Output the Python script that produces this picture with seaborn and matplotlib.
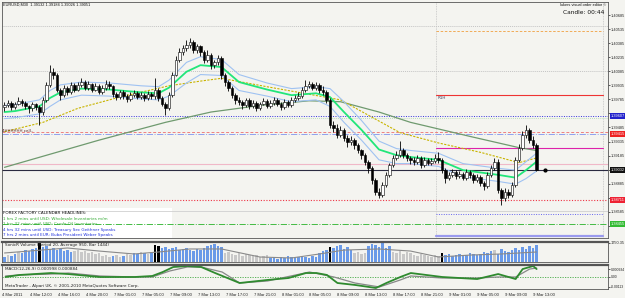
import numpy as np
import seaborn as sns
import matplotlib
matplotlib.use('Agg')
from matplotlib import pyplot as plt
from matplotlib import transforms

sns.set_style('white')
plt.rcParams['font.family'] = ['DejaVu Sans']
NARROW = ['Liberation Sans Narrow', 'DejaVu Sans Condensed', 'Liberation Sans', 'DejaVu Sans']

W, H = 625, 298
BG = '#f4f4f0'

# EURUSD M30 candles, pips above 1.3800
BASE = 1.3800
open_pips = [170, 172, 175, 170, 174, 177, 175, 171, 169, 174,
             170, 165, 178, 194, 208, 205, 189, 183, 191, 186,
             194, 189, 194, 197, 191, 195, 189, 193, 186, 191,
             195, 193, 184, 181, 186, 182, 179, 183, 185, 181,
             183, 180, 184, 182, 189, 180, 174, 169, 183, 205,
             221, 229, 233, 236, 240, 231, 235, 229, 221, 226,
             215, 218, 223, 205, 197, 191, 183, 178, 176, 172,
             178, 171, 175, 169, 174, 177, 171, 175, 178, 174,
             170, 176, 172, 178, 180, 182, 188, 193, 195, 191,
             194, 188, 186, 178, 151, 148, 140, 146, 137, 133,
             135, 130, 124, 119, 112, 105, 92, 80, 76, 87,
             98, 108, 116, 119, 124, 119, 116, 114, 112, 116,
             108, 114, 111, 113, 116, 114, 103, 95, 98, 101,
             97, 99, 95, 101, 98, 92, 96, 89, 86, 98,
             105, 112, 82, 73, 80, 76, 87, 114, 127, 140,
             146, 135, 130]
high_pips = [176, 178, 177, 176, 181, 179, 177, 173, 176, 175,
             172, 181, 197, 215, 212, 207, 191, 194, 193, 197,
             196, 197, 201, 199, 198, 196, 196, 195, 194, 199,
             198, 194, 186, 188, 188, 184, 186, 188, 187, 186,
             185, 187, 186, 201, 191, 182, 176, 186, 208, 225,
             233, 237, 242, 244, 242, 238, 237, 231, 231, 228,
             221, 226, 225, 207, 199, 193, 185, 181, 178, 180,
             180, 178, 177, 176, 180, 179, 178, 181, 180, 176,
             179, 178, 181, 183, 186, 192, 199, 198, 197, 197,
             196, 193, 189, 180, 155, 152, 150, 148, 140, 139,
             137, 132, 126, 121, 114, 107, 95, 84, 90, 101,
             111, 119, 123, 134, 127, 121, 118, 117, 119, 118,
             117, 116, 116, 120, 122, 116, 105, 101, 104, 103,
             102, 101, 104, 103, 100, 99, 98, 91, 101, 108,
             116, 115, 84, 84, 83, 90, 117, 131, 145, 151,
             148, 139, 132]
low_pips = [166, 170, 167, 168, 172, 171, 168, 164, 166, 167,
            151, 162, 176, 192, 200, 186, 178, 181, 183, 184,
            186, 187, 192, 189, 189, 186, 187, 184, 184, 189,
            190, 181, 178, 179, 179, 176, 177, 181, 179, 179,
            177, 178, 179, 179, 177, 171, 162, 167, 181, 203,
            218, 226, 230, 233, 228, 228, 225, 217, 218, 211,
            212, 215, 200, 193, 187, 180, 174, 172, 168, 170,
            168, 169, 166, 167, 172, 169, 169, 173, 171, 167,
            168, 170, 170, 176, 178, 180, 186, 191, 188, 189,
            185, 183, 175, 148, 144, 137, 138, 134, 128, 130,
            126, 121, 115, 108, 100, 88, 76, 73, 74, 85,
            96, 106, 114, 117, 116, 113, 110, 109, 110, 105,
            106, 108, 109, 111, 111, 100, 89, 93, 96, 94,
            95, 92, 93, 95, 89, 90, 86, 82, 84, 96,
            103, 79, 66, 70, 73, 74, 85, 112, 125, 137,
            132, 127, 102]
close_pips = [172, 175, 170, 174, 177, 175, 171, 169, 174, 170,
              165, 178, 194, 208, 205, 189, 183, 191, 186, 194,
              189, 194, 197, 191, 195, 189, 193, 186, 191, 195,
              193, 184, 181, 186, 182, 179, 183, 185, 181, 183,
              180, 184, 182, 189, 180, 174, 169, 183, 205, 221,
              229, 233, 236, 240, 231, 235, 229, 221, 226, 215,
              218, 223, 205, 197, 191, 183, 178, 176, 172, 178,
              171, 175, 169, 174, 177, 171, 175, 178, 174, 170,
              176, 172, 178, 180, 182, 188, 193, 195, 191, 194,
              188, 186, 178, 151, 148, 140, 146, 137, 133, 135,
              130, 124, 119, 112, 105, 92, 80, 76, 87, 98,
              108, 116, 119, 124, 119, 116, 114, 112, 116, 108,
              114, 111, 113, 116, 114, 103, 95, 98, 101, 97,
              99, 95, 101, 98, 92, 96, 89, 86, 98, 105,
              112, 82, 73, 80, 76, 87, 114, 127, 140, 146,
              135, 130, 103]

# moving averages (bar index, pips)
ema_x = [0, 3, 10, 13, 16, 22, 30, 39, 44, 47, 52, 56, 62, 67, 75, 82, 89, 93,
         97, 102, 107, 112, 116, 124, 131, 141, 146, 149, 152]
ema_mid = [165, 166, 171, 180, 186, 190, 189, 186, 185, 191, 208, 215, 213, 197,
           189, 183, 185, 181, 165, 146, 125, 119, 117, 114, 103, 98, 95, 103, 112]
ema_up = [172, 173, 178, 188, 194, 197, 196, 193, 192, 199, 218, 224, 221, 205,
          196, 190, 192, 190, 176, 156, 134, 126, 124, 121, 110, 105, 103, 112, 121]
ema_lo = [158, 159, 163, 171, 178, 183, 182, 179, 178, 182, 196, 205, 204, 188,
          182, 176, 178, 171, 154, 135, 114, 110, 110, 107, 96, 91, 88, 94, 102]
slow_x = [0, 11, 21, 33, 47, 56, 62, 75, 84, 96, 113, 124, 136, 147, 152]
slow_ma = [144, 154, 169, 181, 193, 198, 201, 192, 186, 178, 143, 132, 122, 111, 116]
long_x = [0, 27, 46, 59, 73, 87, 96, 107, 116, 133, 147, 152]
long_ma = [106, 135, 154, 165, 172, 177, 176, 165, 154, 139, 127, 124]

# horizontal levels
grid_levels = [1.40568, 1.40087]
lvl_orange = 1.40514
lvl_r1 = 1.39831
lvl_blue = 1.39607
lvl_lgreen = 1.39586
lvl_red_dash = 1.39437
lvl_blue_dash = 1.39415
lvl_magenta = 1.39266
lvl_pink = 1.39095
lvl_current = 1.39032
lvl_red_dot = 1.38711
lvl_gray = 1.38594
lvl_blue_dot = 1.38562
lvl_green = 1.38455
lvl_purple = 1.38327
session_bar = 123.3

price_ticks = [1.40685, 1.40535, 1.40385, 1.40235, 1.40085, 1.39935, 1.39785,
               1.39635, 1.39485, 1.39335, 1.39185, 1.39035, 1.38885, 1.38735,
               1.38585, 1.38435]

# volume
volume = [460, 640, 550, 740, 920, 830, 1100, 1010, 1200, 1290,
          1750, 1380, 1470, 1200, 1290, 1100, 1200, 1010, 1100, 920,
          1010, 1100, 920, 1010, 830, 920, 740, 830,
          550, 640, 460, 550, 640, 460, 550, 740, 640,
          830, 740, 920, 830, 740, 920, 1560, 1470,
          1290, 1380, 1200, 1290, 1380, 1100, 1200, 1290,
          1100, 1010, 1200, 1100, 1290, 1470, 1560, 1660, 1470, 1380,
          830, 920, 740, 640, 830, 550, 740, 640, 550, 640, 460, 550, 640,
          370, 460, 280, 460, 370, 550, 460, 370, 460, 550, 460, 370, 550, 460,
          830, 1010, 1100, 1380, 1290, 1470, 1560, 1200, 1380, 1100,
          830, 920, 740, 830, 1470, 1660, 1560, 1380, 1750, 1290, 1470,
          920, 830, 1010, 740, 920, 830, 640, 550, 740, 640, 550, 460, 640, 550,
          830, 640, 740, 550, 640, 740, 550, 640, 830, 740, 640, 740,
          920, 830, 1010, 1100, 740, 1200, 1010, 920, 1100,
          1290, 1100, 1380, 1200, 1470, 1290, 1560]
vol_kind = ('bgbbgbbbbb' + 'k' + 'bbbb' + 'bbbbb' + 'gggggggg' + 'gggbggbgg'
            + 'bbgbgb' + 'kk' + 'bbbbbbbb' + 'bbbbbbb' + 'bbb' + 'g' * 13
            + 'b' * 14 + 'bbb' + 'k' + 'bbbbbb' + 'gggg' + 'bbbbbbb' + 'gggggg'
            + 'gggggggg' + 'k' + 'b' * 11 + 'bbbgbbbbb' + 'bbbbbbb')
vavg_x = [0, 7, 18, 27, 37, 44, 53, 62, 73, 82, 90, 97, 107, 116, 124, 133, 142, 152]
vavg = [830, 1010, 1290, 1010, 740, 920, 1200, 1200, 460, 370, 740, 1100, 1200,
        1010, 460, 640, 740, 920]

# MACD
macd_x = [0, 4, 13, 18, 27, 37, 42, 45, 48, 52, 56, 60, 67, 75, 81, 86, 89, 92,
          95, 100, 106, 109, 113, 116, 125, 135, 141, 146, 148, 151, 152]
macd_main = [0, 0.00024, 0.00047, 0.00035, 0, 0, 0.00012, 0.00059, 0.00118,
             0.0013, 0.00118, 0.00047, -0.00071, -0.00035, -0.00012, 0.00047,
             0.00047, 0.00024, -0.00071, -0.00094, -0.0013, -0.00071, 0,
             0.00047, 0, -0.00024, 0.00035, -0.00024, 0.00094, 0.0013, 0.00094]
signal_x = [0, 4, 13, 18, 27, 37, 42, 47, 52, 56, 62, 67, 75, 87, 94, 100, 107,
            113, 116, 125, 135, 141, 146, 150, 152]
macd_signal = [0.00012, 0.00024, 0.00035, 0.00047, 0.00012, 0, 0, 0.00071,
               0.00118, 0.00118, 0.00059, -0.00071, -0.00047, 0.00059, 0,
               -0.00071, -0.00118, -0.00035, 0.00012, -0.00012, -0.00012, 0, 0,
               0.00094, 0.00106]

time_labels = ['4 Mar 2011', '4 Mar 12:00', '4 Mar 16:00', '4 Mar 20:00',
               '7 Mar 01:00', '7 Mar 05:00', '7 Mar 09:00', '7 Mar 13:00',
               '7 Mar 17:00', '7 Mar 21:00', '8 Mar 01:00', '8 Mar 05:00',
               '8 Mar 09:00', '8 Mar 13:00', '8 Mar 17:00', '8 Mar 21:00',
               '9 Mar 01:00', '9 Mar 05:00', '9 Mar 09:00', '9 Mar 13:00']

calendar = [('FOREX FACTORY CALENDAR HEADLINES:', '#111111'),
            ('1 hrs 2 mins until USD: Wholesale Inventories m/m', '#33aa33'),
            ('1 hrs 32 mins until USD: Crude Oil Inventories', '#33aa33'),
            ('4 hrs 32 mins until USD: Treasury Sec Geithner Speaks', '#2233dd'),
            ('7 hrs 2 mins until EUR: Buba President Weber Speaks', '#2233dd')]


def to_price(p):
    return BASE + np.asarray(p, dtype=float) / 1e4


def fx(x):
    return x / W


def fy(y):
    return 1 - y / H


o = to_price(open_pips)
hi = to_price(high_pips)
lo = to_price(low_pips)
c = to_price(close_pips)
bars = np.arange(len(c))

fig = plt.figure(figsize=(W / 100, H / 100), dpi=100, facecolor=BG)
ax = fig.add_axes([fx(2), fy(238), fx(606), 236 / H], facecolor=BG)
axv = fig.add_axes([fx(2), fy(262), fx(606), 20 / H], facecolor=BG)
axm = fig.add_axes([fx(2), fy(289), fx(606), 24 / H], facecolor=BG)

XL = (-0.714, 172.43)
for a in (ax, axv, axm):
    a.set_xlim(*XL)
    for s in a.spines.values():
        s.set_color('#555555')
        s.set_linewidth(0.6)
ax.set_ylim(1.38306, 1.40824)
axv.set_ylim(0, 1842)
axm.set_ylim(-0.00142, 0.00142)
axv.spines['top'].set_linewidth(1.6)
axm.spines['top'].set_linewidth(1.6)

# --- levels
for g in grid_levels:
    ax.axhline(g, color='#c4c4c4', lw=0.7, ls=(0, (1, 1)), zorder=1)
xs = [session_bar, 171]
ax.plot(xs, [lvl_orange] * 2, color='#f0a040', lw=0.6, ls=(0, (3, 2)), zorder=2)
ax.plot(xs, [lvl_r1] * 2, color='#ee3333', lw=0.8, zorder=2)
ax.axhline(lvl_blue, color='#3333dd', lw=0.7, ls=(0, (1, 1.5)), zorder=2)
ax.axhline(lvl_lgreen, color='#a8d8a8', lw=0.6, ls=(0, (1, 1.5)), zorder=2)
ax.axhline(lvl_red_dash, color='#ee8080', lw=0.7, ls=(0, (3, 2)), zorder=2)
ax.axhline(lvl_blue_dash, color='#8fa0ee', lw=0.7, ls='-.', zorder=2)
ax.plot(xs, [lvl_magenta] * 2, color='#dd22aa', lw=0.8, zorder=2)
ax.axhline(lvl_pink, color='#f0b8c8', lw=0.8, zorder=2)
ax.axhline(lvl_current, color='#2a2a40', lw=0.8, zorder=2)
ax.axhline(lvl_red_dot, color='#ee3344', lw=0.8, ls=(0, (1, 1.5)), zorder=2)
ax.axhline(lvl_gray, color='#d0d0d0', lw=0.6, zorder=2)
ax.plot(xs, [lvl_blue_dot] * 2, color='#6666ee', lw=0.7, ls=(0, (1, 1.5)), zorder=2)
ax.axhline(lvl_green, color='#44bb44', lw=0.7, ls='-.', zorder=3)
ax.plot(xs, [lvl_purple] * 2, color='#9a9aee', lw=1.6, zorder=2)
ax.axvline(session_bar, color='#c4c4c4', lw=0.6, ls=(0, (1, 1)), zorder=1)
ax.axvline(171, color='#c4c4c4', lw=0.6, ls=(0, (1, 1)), zorder=1)

# --- moving averages
sns.lineplot(x=long_x, y=to_price(long_ma), ax=ax, color='#6f9a6f', lw=0.9, zorder=3)
sns.lineplot(x=slow_x, y=to_price(slow_ma), ax=ax, color='#c8b400', lw=0.8,
             ls=(0, (2, 1.2)), zorder=3)
sns.lineplot(x=ema_x, y=to_price(ema_up), ax=ax, color='#9fc2f2', lw=0.8, zorder=3)
sns.lineplot(x=ema_x, y=to_price(ema_lo), ax=ax, color='#9fc2f2', lw=0.8, zorder=3)
sns.lineplot(x=ema_x, y=to_price(ema_mid), ax=ax, color='#22e67a', lw=1.3, zorder=3)

# --- candles
up = c >= o
ax.vlines(bars, lo, hi, color='black', lw=0.6, zorder=4)
body = np.where(np.abs(c - o) < 0.00002, 0.00002, c - o)
ax.bar(bars, body, bottom=o, width=0.62, color=np.where(up, 'white', 'black'),
       edgecolor='black', linewidth=0.4, zorder=5)
ax.plot([154.4], [lvl_current], 'o', color='black', ms=2, zorder=5)

# --- calendar box
ax.add_patch(plt.Rectangle((fx(0), fy(238)), fx(172), 30 / H, transform=fig.transFigure,
                           facecolor='white', edgecolor='none', zorder=1.5))
for k, (txt, col) in enumerate(calendar):
    fig.text(fx(3), fy(213 + 5.6 * k), txt, color=col, fontsize=3.0, va='center')

# --- right price axis (labels hidden where a price box covers them)
boxes = [(lvl_blue, '#2222cc'), (lvl_blue_dash, '#ee2222'), (lvl_current, '#111111'),
         (lvl_red_dot, '#ee2233'), (lvl_green, '#33bb33')]
ax.yaxis.tick_right()
ax.set_yticks(price_ticks)
ax.set_yticklabels(['' if any(abs(v - b) < 0.0004 for b, _ in boxes) else f'{v:.5f}'
                    for v in price_ticks])
ax.tick_params(axis='y', length=1.5, width=0.5, pad=0.6, labelsize=2.8, colors='#222222')
ax.set_xticks([])
blend = transforms.blended_transform_factory(ax.transAxes, ax.transData)
for val, col in boxes:
    ax.text(1.004, val, f'{val:.5f}', transform=blend, color='white', fontsize=2.8,
            family=NARROW, va='center', ha='left', zorder=6, clip_on=False,
            bbox=dict(boxstyle='square,pad=0.2', fc=col, ec='none'))

# --- volume
vcol = {'b': '#6a9ae8', 'g': '#c8c8c8', 'k': '#000000'}
axv.bar(np.arange(len(volume)), volume, width=0.62,
        color=[vcol[k] for k in vol_kind], linewidth=0)
sns.lineplot(x=vavg_x, y=vavg, ax=axv, color='#8a8a8a', lw=0.8)
axv.set_xticks([])
axv.yaxis.tick_right()
axv.set_yticks([1750])
axv.set_yticklabels(['1750.35'])
axv.tick_params(axis='y', length=1.5, width=0.5, pad=0.6, labelsize=2.8, colors='#222222')
axv.text(0.005, 0.93, 'SonicR Volume (Period 20, Average 950, Bar 1444)',
         transform=axv.transAxes, fontsize=3.0, va='top', color='#222222')

# --- MACD
axm.axhline(0, color='#44aa44', lw=0.6, ls=(0, (1.5, 1.5)))
sns.lineplot(x=signal_x, y=macd_signal, ax=axm, color='#888888', lw=0.9)
sns.lineplot(x=macd_x, y=macd_main, ax=axm, color='#2f8a2f', lw=1.3)
axm.yaxis.tick_right()
axm.set_yticks([0.000934, 0, -0.00113])
axm.set_yticklabels(['0.000934', '0.00', '-0.00113'])
axm.tick_params(axis='y', length=1.5, width=0.5, pad=0.6, labelsize=2.4, colors='#222222')
axm.set_xticks([8 * k - 1 for k in range(len(time_labels))])
axm.set_xticklabels(time_labels)
axm.tick_params(axis='x', length=2, width=0.5, pad=1, labelsize=3.0, colors='#222222')
for lbl in axm.get_xticklabels():
    lbl.set_ha('left')
    lbl.set_family(NARROW)
for a in (ax, axv, axm):
    for lbl in a.get_yticklabels():
        lbl.set_family(NARROW)
axm.text(0.005, 0.92, 'MACD(12,26,9) 0.000998 0.000884', transform=axm.transAxes,
         fontsize=3.0, va='top', color='#222222')
axm.text(0.005, 0.06, 'MetaTrader - Alpari UK, \u00a9 2001-2010 MetaQuotes Software Corp.',
         transform=axm.transAxes, fontsize=3.0, va='bottom', color='#222222')
for a in (axv, axm):
    a.set_xlabel('')
    a.set_ylabel('')

# --- overlay texts
fig.text(fx(3), fy(5), 'EURUSD,M30  1.39132 1.39184 1.39026 1.39051', fontsize=2.8,
         family=NARROW, va='center', color='#111111')
fig.text(fx(606), fy(5), 'lukers visual order editor \u00a9', fontsize=2.8, family=NARROW,
         va='center', ha='right', color='#111111')
fig.text(fx(604), fy(13), 'Candle: 00:44', fontsize=4.2, va='center', ha='right',
         color='#111111')
fig.text(fx(438), fy(98), 'R1H', fontsize=3.0, va='center', color='#444466')
fig.text(fx(2), fy(131), '4HHHHHH cell..', fontsize=3.0, va='center', color='#552222')
ax.set_ylabel('')

fig.savefig('out.png', dpi=100, facecolor=BG)
